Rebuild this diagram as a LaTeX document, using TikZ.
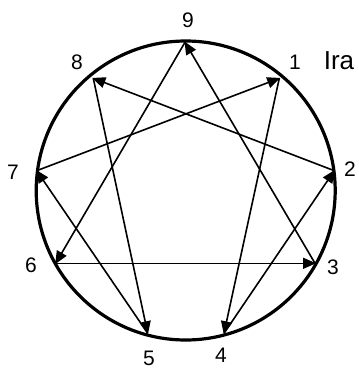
\documentclass[tikz,border=0pt]{standalone}
\usepackage{fontspec}
\setmainfont{Liberation Sans}
\usetikzlibrary{arrows.meta}
\begin{document}
\begin{tikzpicture}[x=1pt,y=-1pt,
  conn/.style={line width=1.6pt,-{Triangle[length=13pt,width=11pt]},shorten >=-1pt},
  lbl/.style={font=\fontsize{21}{21}\selectfont,inner sep=0pt},
  ttl/.style={font=\fontsize{26}{26}\selectfont,inner sep=0pt}]
\useasboundingbox (0,0) rectangle (359,370);
\draw[line width=3.2pt] (185.7,190.5) circle[radius=149.5];
\coordinate (p9) at (185,42.3);
\coordinate (p1) at (279.3,78.3);
\coordinate (p2) at (334.3,170.7);
\coordinate (p3) at (315,263.3);
\coordinate (p4) at (224,333.3);
\coordinate (p5) at (147.7,333.3);
\coordinate (p6) at (55.7,263.3);
\coordinate (p7) at (36.7,170.7);
\coordinate (p8) at (93.3,78.3);
\draw[conn] (p1) -- (p4);
\draw[conn] (p4) -- (p2);
\draw[conn] (p2) -- (p8);
\draw[conn] (p8) -- (p5);
\draw[conn] (p5) -- (p7);
\draw[conn] (p7) -- (p1);
\draw[conn] (p3) -- (p9);
\draw[conn] (p9) -- (p6);
\draw[conn] (p6) -- (p3);
\node[lbl] (l9) at (188,20) {9};
\node[lbl] (l8) at (77,62) {8};
\node[lbl] (l1) at (295,62) {1};
\node[ttl] (ira) at (339,61) {Ira};
\node[lbl] (l2) at (350,169) {2};
\node[lbl] (l7) at (13,172) {7};
\node[lbl] (l6) at (31,265) {6};
\node[lbl] (l3) at (333,267) {3};
\node[lbl] (l5) at (149,358) {5};
\node[lbl] (l4) at (221,355) {4};
\end{tikzpicture}
\end{document}
